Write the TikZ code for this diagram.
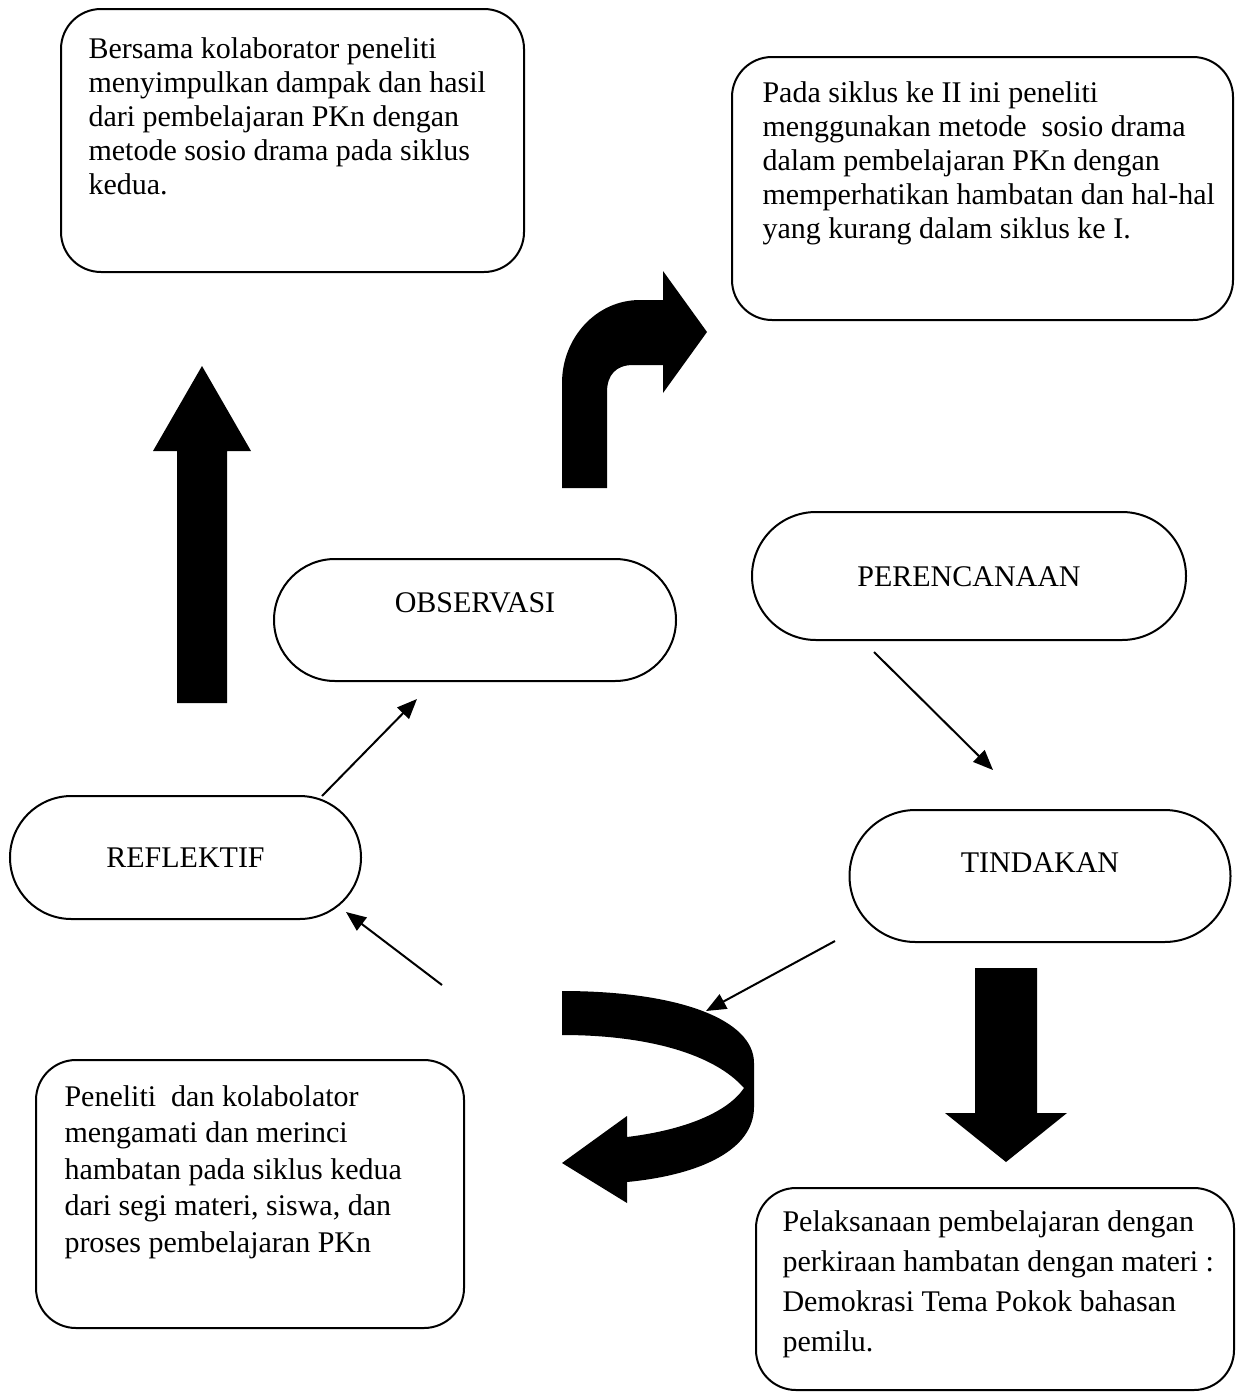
\documentclass[tikz,border=0pt]{standalone}
\usepackage{fontspec}
\setmainfont{Liberation Serif}
\usetikzlibrary{arrows.meta,shapes.misc}
\tikzset{
	stage/.style={rounded rectangle, draw, line width=0.8pt, inner sep=0pt, font=\fontsize{12pt}{14pt}\selectfont, text height=8pt, text depth=0pt},
	frame/.style={draw, line width=0.8pt, rounded corners=16pt, anchor=north west, inner sep=0pt},
	boxtext/.style={anchor=north west, align=left, inner sep=0pt},
	thinarrow/.style={line width=0.8pt, -{Triangle[length=8pt,width=6.5pt]}},
}
\begin{document}
\begin{tikzpicture}[x=0.4pt,y=-0.4pt]
	\useasboundingbox (0,0) rectangle (1237,1393);
	\node[stage, minimum width=160.8pt, minimum height=48.8pt, text depth=14.4pt] (observasi) at (475,620) {OBSERVASI};
	\node[stage, minimum width=173.6pt, minimum height=51.2pt] (perencanaan) at (969,576) {PERENCANAAN};
	\node[stage, minimum width=140.4pt, minimum height=49.2pt] (reflektif) at (185.5,857.5) {REFLEKTIF};
	\node[stage, minimum width=152.4pt, minimum height=52.8pt, text depth=11.2pt] (tindakan) at (1040,876) {TINDAKAN};
	\node[frame, minimum width=185.2pt, minimum height=105.2pt] (simpulan) at (60,8) {};
	\node[boxtext, font=\fontsize{12pt}{13.6pt}\selectfont] at ([shift={(28,29)}]simpulan.north west) {Bersama kolaborator peneliti\\ menyimpulkan dampak dan hasil\\ dari pembelajaran PKn dengan\\ metode sosio drama pada siklus\\ kedua.};
	\node[frame, minimum width=200.4pt, minimum height=105.2pt] (siklus) at (731,56) {};
	\node[boxtext, font=\fontsize{12pt}{13.6pt}\selectfont] at ([shift={(31,25)}]siklus.north west) {Pada siklus ke II ini peneliti\\ menggunakan metode\ \ sosio drama\\ dalam pembelajaran PKn dengan\\ memperhatikan hambatan dan hal-hal\\ yang kurang dalam siklus ke I.};
	\node[frame, minimum width=171.2pt, minimum height=107.2pt] (hambatan) at (35,1059) {};
	\node[boxtext, font=\fontsize{12pt}{14.6pt}\selectfont] at ([shift={(29,26)}]hambatan.north west) {Peneliti\ \ dan kolabolator\\ mengamati dan merinci\\ hambatan pada siklus kedua\\ dari segi materi, siswa, dan\\ proses pembelajaran PKn};
	\node[frame, minimum width=191.2pt, minimum height=80.8pt] (pelaksanaan) at (755,1187) {};
	\node[boxtext, font=\fontsize{12pt}{16pt}\selectfont] at ([shift={(27,23)}]pelaksanaan.north west) {Pelaksanaan pembelajaran dengan\\ perkiraan hambatan dengan materi :\\ Demokrasi Tema Pokok bahasan\\ pemilu.};
	\coordinate (uttop) at (706,1011);
	\coordinate (hambatanin) at (442,985);
	\draw[thinarrow] ([shift={(136.5,1)}]reflektif.north) -- ([shift={(-58,17)}]observasi.south);
	\draw[thinarrow] ([shift={(-95,11)}]perencanaan.south) -- ([shift={(-47,-39)}]tindakan.north);
	\draw[thinarrow] ([shift={(-205,-2)}]tindakan.south) -- (uttop);
	\draw[thinarrow] (hambatanin) -- ([shift={(160.5,-8)}]reflektif.south);
	% block arrows
	\fill (177,703) -- (177,451) -- (153,451) -- (202,366) -- (251,451) -- (227,451) -- (227,703) -- cycle;
	\fill (975,968) -- (1037,968) -- (1037,1113) -- (1067,1113) -- (1006,1162) -- (945,1113) -- (975,1113) -- cycle;
	\fill (562,488) -- (562,383) .. controls (562,338) and (596,300) .. (640,300) -- (663,300) -- (663,271) -- (707,332) -- (663,393) -- (663,365) -- (633,365) .. controls (616,365) and (607,375) .. (607,392) -- (607,488) -- cycle;
	\fill (562,991) .. controls (680,991) and (754,1020) .. (754,1063) -- (754,1107) .. controls (754,1150) and (700,1175) .. (627,1182) -- (627,1203) -- (562,1163) -- (627,1116) -- (627,1137) .. controls (685,1130) and (728,1112) .. (744,1088) .. controls (715,1055) and (650,1035) .. (562,1035) -- cycle;
\end{tikzpicture}
\end{document}
